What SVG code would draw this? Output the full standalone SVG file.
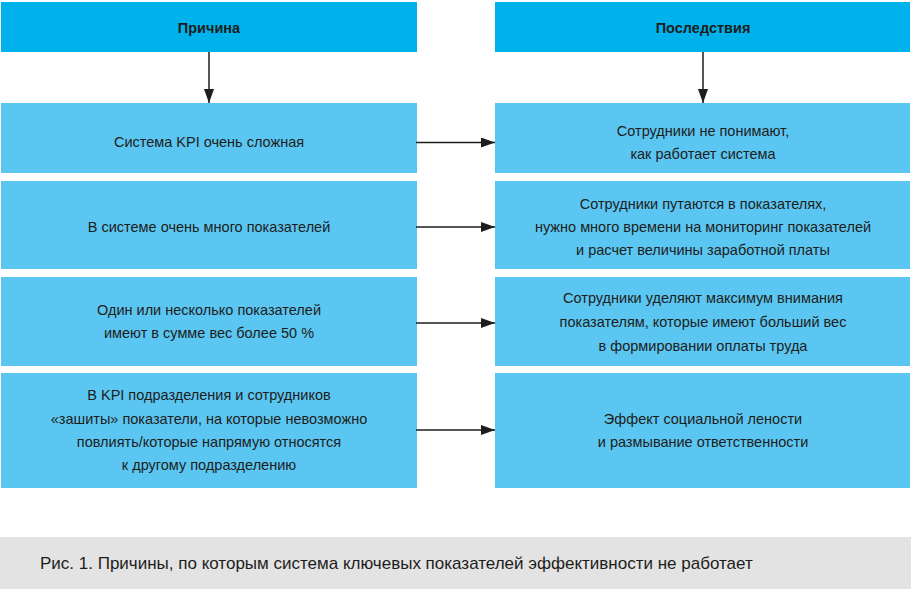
<svg xmlns="http://www.w3.org/2000/svg" width="911" height="589" viewBox="0 0 911 589">
<defs>
<marker id="ah" viewBox="0 0 14 10" refX="14" refY="5" markerWidth="14" markerHeight="10" markerUnits="userSpaceOnUse" orient="auto">
<path d="M0,0 L14,5 L0,10 Z" fill="#1d1d1b"/>
</marker>
<style>
.hd{fill:#00b2ec}
.bx{fill:#5bc6f1}
.t{font-family:"Liberation Sans",Arial,sans-serif;font-size:14.5px;fill:#1d1d1b;text-anchor:middle}
.b{font-weight:bold}
.c{stroke:#1d1d1b;stroke-width:1.5;fill:none}
</style>
</defs>
<rect width="911" height="589" fill="#ffffff"/>
<g id="hdr-cause"><rect class="hd" x="1" y="2" width="416" height="50"/><text class="t b" x="209" y="33">Причина</text></g>
<g id="hdr-effect"><rect class="hd" x="495" y="2" width="415" height="50"/><text class="t b" x="703" y="33">Последствия</text></g>
<g id="c1"><rect class="bx" x="1" y="103" width="416" height="70"/><text class="t" x="209" y="147">Система KPI очень сложная</text></g>
<g id="e1"><rect class="bx" x="495" y="103" width="415" height="70"/><text class="t" x="703" y="136">Сотрудники не понимают,</text><text class="t" x="703" y="159">как работает система</text></g>
<g id="c2"><rect class="bx" x="1" y="181" width="416" height="88"/><text class="t" x="209" y="232">В системе очень много показателей</text></g>
<g id="e2"><rect class="bx" x="495" y="181" width="415" height="88"/><text class="t" x="703" y="209">Сотрудники путаются в показателях,</text><text class="t" x="703" y="232">нужно много времени на мониторинг показателей</text><text class="t" x="703" y="255">и расчет величины заработной платы</text></g>
<g id="c3"><rect class="bx" x="1" y="277" width="416" height="89"/><text class="t" x="209" y="315">Один или несколько показателей</text><text class="t" x="209" y="338">имеют в сумме вес более 50 %</text></g>
<g id="e3"><rect class="bx" x="495" y="277" width="415" height="89"/><text class="t" x="703" y="303">Сотрудники уделяют максимум внимания</text><text class="t" x="703" y="327">показателям, которые имеют больший вес</text><text class="t" x="703" y="351">в формировании оплаты труда</text></g>
<g id="c4"><rect class="bx" x="1" y="373" width="416" height="115"/><text class="t" x="209" y="400">В KPI подразделения и сотрудников</text><text class="t" x="209" y="424">«зашиты» показатели, на которые невозможно</text><text class="t" x="209" y="447">повлиять/которые напрямую относятся</text><text class="t" x="209" y="470">к другому подразделению</text></g>
<g id="e4"><rect class="bx" x="495" y="373" width="415" height="115"/><text class="t" x="703" y="424">Эффект социальной лености</text><text class="t" x="703" y="447">и размывание ответственности</text></g>
<g id="connectors">
<line class="c" x1="209" y1="52" x2="209" y2="103" marker-end="url(#ah)"/>
<line class="c" x1="703" y1="52" x2="703" y2="103" marker-end="url(#ah)"/>
<line class="c" x1="416" y1="142.5" x2="495" y2="142.5" marker-end="url(#ah)"/>
<line class="c" x1="416" y1="227" x2="495" y2="227" marker-end="url(#ah)"/>
<line class="c" x1="416" y1="323" x2="495" y2="323" marker-end="url(#ah)"/>
<line class="c" x1="416" y1="430" x2="495" y2="430" marker-end="url(#ah)"/>
</g>
<g id="caption"><rect x="0" y="537" width="911" height="52" fill="#e3e3e3"/><text x="40" y="569" style="font-family:'Liberation Sans',Arial,sans-serif;font-size:17px;fill:#1d1d1b">Рис. 1. Причины, по которым система ключевых показателей эффективности не работает</text></g>
</svg>
